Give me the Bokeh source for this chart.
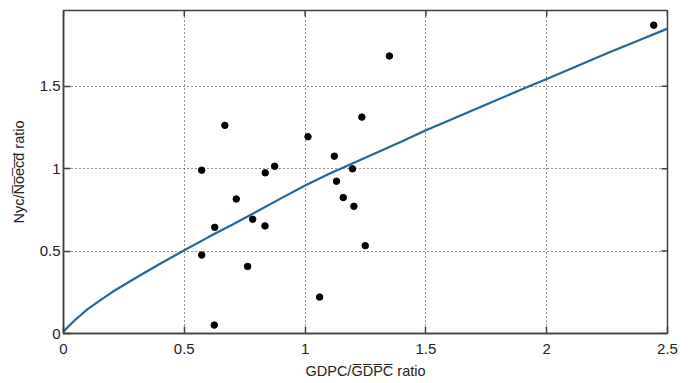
import math
from bokeh.plotting import figure
from bokeh.models import Range1d, FixedTicker
from bokeh.embed import file_html
from bokeh.resources import INLINE

# scatter data
pts_x = [0.668, 0.572, 1.012, 1.121, 0.835, 0.874, 0.715, 1.130, 1.158, 2.443, 1.349,
         1.235, 1.196, 0.626, 0.783, 0.834, 0.572, 0.762, 1.060, 0.624, 1.202, 1.249]
pts_y = [1.263, 0.991, 1.194, 1.076, 0.975, 1.015, 0.816, 0.924, 0.825, 1.871, 1.684,
         1.313, 0.999, 0.644, 0.693, 0.653, 0.476, 0.407, 0.221, 0.051, 0.772, 0.533]

# fitted curve
curve_x = [0.0, 0.02, 0.05, 0.1, 0.15, 0.2, 0.3, 0.4, 0.5, 0.6, 0.7, 0.8, 0.9, 1.0,
           1.1, 1.2, 1.3, 1.4, 1.5, 1.6, 1.75, 1.9, 2.0, 2.1, 2.25, 2.4, 2.5]
curve_y = [0.01, 0.042, 0.085, 0.148, 0.2, 0.25, 0.338, 0.423, 0.505, 0.585, 0.662,
           0.74, 0.82, 0.898, 0.97, 1.035, 1.10, 1.165, 1.233, 1.295, 1.39, 1.483,
           1.545, 1.607, 1.70, 1.79, 1.85]

X_MIN, X_MAX = 0.0, 2.5
Y_MIN, Y_MAX = 0.0, 1.96

x_ticks = [0, 0.5, 1, 1.5, 2, 2.5]
x_tick_labels = ["0", "0.5", "1", "1.5", "2", "2.5"]
y_ticks = [0, 0.5, 1, 1.5]
y_tick_labels = ["0", "0.5", "1", "1.5"]

x_label = "GDPC/G\u0305D\u0305P\u0305C\u0305 ratio"
y_label = "Nyc/N\u0305o\u0305e\u0305c\u0305d\u0305 ratio"

FONT = "Liberation Sans"
AX = "#404040"

p = figure(frame_width=604, frame_height=323, output_backend="svg", toolbar_location=None,
           x_range=Range1d(X_MIN, X_MAX), y_range=Range1d(Y_MIN, Y_MAX),
           min_border_left=63, min_border_right=13, min_border_top=10, min_border_bottom=46)
p.background_fill_color = "white"
p.border_fill_color = "white"
p.outline_line_color = AX
p.outline_line_width = 1.5

for ax, ticks, labels in ((p.xaxis[0], x_ticks, x_tick_labels), (p.yaxis[0], y_ticks, y_tick_labels)):
    ax.ticker = FixedTicker(ticks=ticks)
    ax.major_label_overrides = {t: l for t, l in zip(ticks, labels)}
    ax.minor_tick_line_color = None
    ax.major_tick_in = 7
    ax.major_tick_out = 0
    ax.axis_line_color = AX
    ax.axis_line_width = 1.5
    ax.major_tick_line_color = AX
    ax.major_tick_line_width = 1.5
    ax.major_label_text_font = FONT
    ax.major_label_text_font_size = "15px"
    ax.major_label_text_color = "#222222"
    ax.axis_label_text_font = FONT
    ax.axis_label_text_font_size = "14.5px"
    ax.axis_label_text_font_style = "normal"
    ax.axis_label_text_color = "#222222"

p.xaxis[0].axis_label = x_label
p.yaxis[0].axis_label = y_label
p.xaxis[0].major_label_standoff = 10
p.xaxis[0].axis_label_standoff = 6
p.yaxis[0].major_label_standoff = 3
p.yaxis[0].axis_label_standoff = 10

p.xgrid.ticker = FixedTicker(ticks=x_ticks)
p.ygrid.ticker = FixedTicker(ticks=y_ticks)
for g in (p.xgrid[0], p.ygrid[0]):
    g.grid_line_color = "black"
    g.grid_line_dash = "1 3"
    g.grid_line_alpha = 0.85
    g.grid_line_width = 1

# mirrored inward tick marks on top and right edges (clipped to the frame)
p.scatter(x_ticks, [Y_MAX] * len(x_ticks), marker="dash", angle=math.pi / 2, size=12,
          line_color=AX, line_width=1.5)
p.scatter([X_MAX] * len(y_ticks), y_ticks, marker="dash", size=12,
          line_color=AX, line_width=1.5)

p.line(curve_x, curve_y, line_color="#23689c", line_width=2.2)
p.scatter(pts_x, pts_y, size=6.5, fill_color="black", line_color="black")

open("out.html", "w").write(file_html(p, INLINE))
